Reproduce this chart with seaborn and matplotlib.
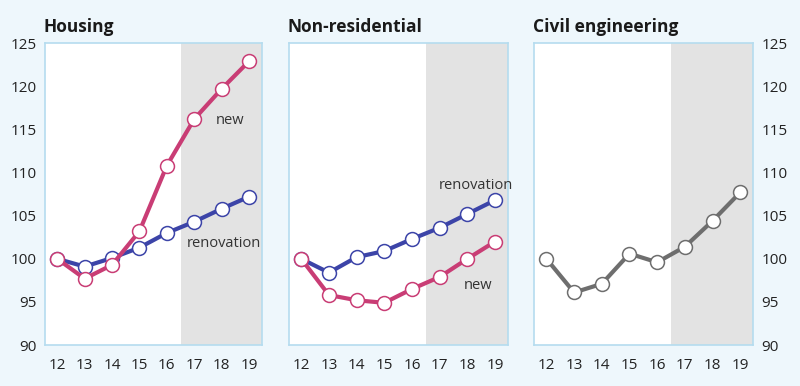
import pandas as pd
import matplotlib.pyplot as plt
import seaborn as sns

# Construction output index (2012 = 100), 17-19 forecast
years = [12, 13, 14, 15, 16, 17, 18, 19]
housing_new = [100.0, 97.7, 99.3, 103.2, 110.8, 116.2, 119.7, 122.9]
housing_reno = [100.0, 99.1, 100.1, 101.3, 103.0, 104.3, 105.8, 107.2]
nonres_new = [100.0, 95.8, 95.2, 94.9, 96.5, 97.9, 100.0, 102.0]
nonres_reno = [100.0, 98.4, 100.2, 100.9, 102.3, 103.6, 105.2, 106.8]
civil = [100.0, 96.1, 97.1, 100.6, 99.6, 101.4, 104.4, 107.7]
y_ticks = [90, 95, 100, 105, 110, 115, 120, 125]

pink = "#c93d75"
blue = "#3c44a8"
grey = "#6e6e6e"
bg = "#eef7fc"
edge = "#b5dcef"

sns.set_style("white")
plt.rcParams["font.family"] = ["Open Sans", "DejaVu Sans"]

fig = plt.figure(figsize=(8, 3.86), dpi=100, facecolor=bg)
bottom, height = 0.106, 0.782
axes = [fig.add_axes([0.05625, bottom, 0.271, height]),
        fig.add_axes([0.361, bottom, 0.274, height]),
        fig.add_axes([0.6675, bottom, 0.274, height])]


def draw(ax, values, color):
    df = pd.DataFrame({"year": years, "value": values})
    sns.lineplot(data=df, x="year", y="value", ax=ax, color=color, linewidth=3.0,
                 marker="o", markersize=10, markerfacecolor="white",
                 markeredgecolor=color, markeredgewidth=1.1)


panels = [("Housing", [(housing_reno, blue), (housing_new, pink)]),
          ("Non-residential", [(nonres_reno, blue), (nonres_new, pink)]),
          ("Civil engineering", [(civil, grey)])]

for ax, (title, series) in zip(axes, panels):
    ax.set_facecolor("white")
    ax.axvspan(16.5, 19.6, color="#e3e3e3", lw=0, zorder=0)
    for vals, col in series:
        draw(ax, vals, col)
    ax.set_xlim(11.55, 19.47)
    ax.set_ylim(90, 125)
    ax.set_xticks(years)
    ax.set_yticks(y_ticks)
    ax.set_xlabel("")
    ax.set_ylabel("")
    ax.tick_params(length=0, labelsize=11, colors="#222222", pad=6)
    ax.tick_params(axis="x", pad=9)
    for s in ax.spines.values():
        s.set_color(edge)
        s.set_linewidth(1.2)
    ax.set_title(title, loc="left", fontsize=12.5, fontweight="bold",
                 color="#1a1a1a", pad=8, x=-0.005)

axes[1].set_yticklabels([])
axes[2].yaxis.tick_right()

axes[0].text(18.3, 116.0, "new", fontsize=10.5, color="#333333", ha="center", va="center")
axes[0].text(18.1, 101.8, "renovation", fontsize=10.5, color="#333333", ha="center", va="center")
axes[1].text(18.3, 108.5, "renovation", fontsize=10.5, color="#333333", ha="center", va="center")
axes[1].text(18.4, 96.9, "new", fontsize=10.5, color="#333333", ha="center", va="center")

fig.savefig("out.png", dpi=100, facecolor=bg)
